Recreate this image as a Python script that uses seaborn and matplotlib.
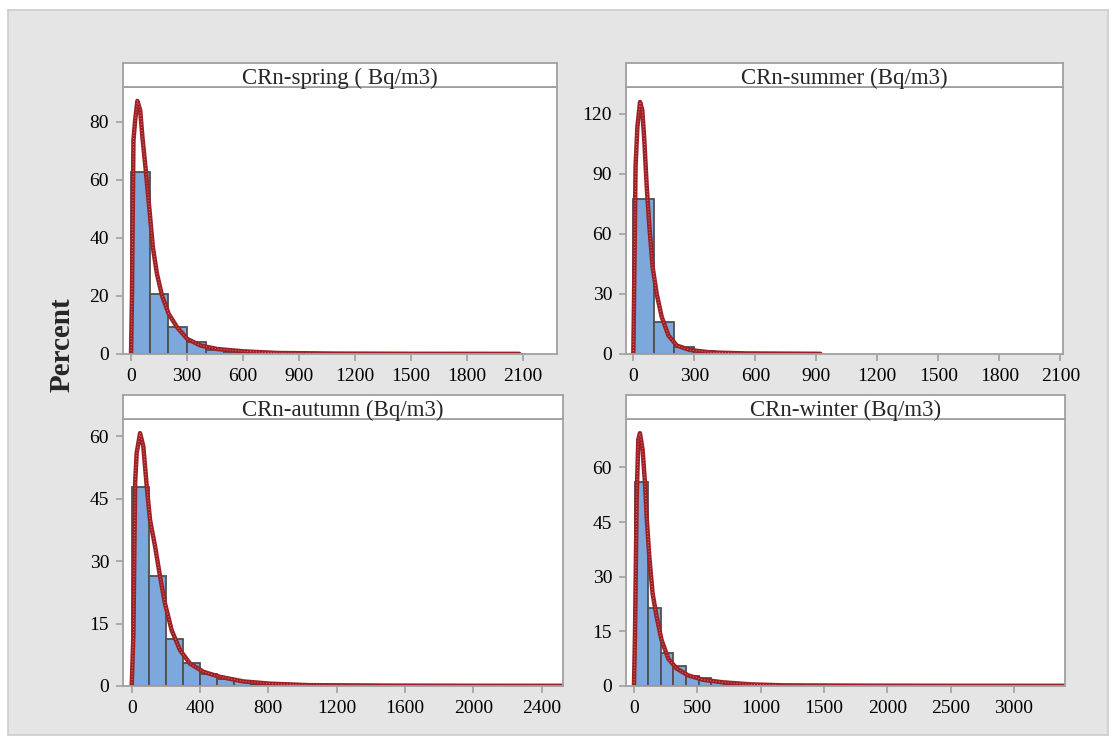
import numpy as np
import pandas as pd
import seaborn as sns
import matplotlib.pyplot as plt

#--------------------------------------------------------------------------------------------------------------------------
# Data (percent per 100 Bq/m3 bin, and the fitted curve)
titles = ['CRn-spring ( Bq/m3)', 'CRn-summer (Bq/m3)', 'CRn-autumn (Bq/m3)', 'CRn-winter (Bq/m3)']

spring_edges = [0, 100, 200, 300, 400, 500, 600, 700, 800, 900, 1000, 1100, 1200, 1300, 1400, 1500, 1600, 1700, 1800, 1900, 2000, 2100]
spring_pct = [62.6, 20.7, 9.2, 4.0, 1.3, 0.7, 0.4, 0.3, 0.2, 0.15, 0.1, 0.1, 0.05, 0.05, 0.05, 0.03, 0.03, 0.03, 0.02, 0.02, 0.02]
spring_curve_x = [0, 5, 13, 22, 34, 49, 61, 79, 99, 117, 139, 166, 202, 247, 301, 373, 463, 607, 787, 1100, 1500, 2080]
spring_curve_y = [0, 20, 73.6, 80.5, 87.2, 84.0, 74.8, 63.3, 49.5, 36.8, 27.6, 20.1, 13.8, 9.2, 5.2, 2.9, 1.7, 0.9, 0.35, 0.15, 0.08, 0.05]

summer_edges = [0, 100, 200, 300, 400, 500, 600, 700, 800, 900]
summer_pct = [77.4, 16.2, 3.7, 1.7, 0.5, 0.3, 0.1, 0.05, 0.05]
summer_curve_x = [0, 5, 11, 20, 33, 44, 54, 66, 79, 95, 115, 140, 173, 214, 279, 378, 550, 920]
summer_curve_y = [0, 40, 93.6, 113.6, 126.0, 122.0, 107.0, 83.6, 63.5, 43.5, 30.0, 18.4, 9.2, 4.2, 2.0, 0.8, 0.3, 0.1]

autumn_edges = [0, 100, 200, 300, 400, 500, 600, 700, 800, 900, 1000, 1100, 1200, 1300, 1400, 1500]
autumn_pct = [47.8, 26.5, 11.2, 5.6, 3.0, 1.8, 1.2, 0.6, 0.4, 0.3, 0.2, 0.15, 0.1, 0.1, 0.05]
autumn_curve_x = [0, 10, 20, 29, 49, 68, 88, 107, 137, 166, 195, 234, 283, 341, 420, 517, 654, 810, 1044, 1500, 2000, 2530]
autumn_curve_y = [0, 12.6, 48.8, 56.0, 60.8, 57.6, 48.0, 40.0, 33.5, 26.3, 19.8, 13.4, 8.6, 5.4, 3.4, 2.2, 1.1, 0.56, 0.2, 0.1, 0.06, 0.05]

winter_edges = [10, 110, 210, 310, 410, 510, 610, 710, 810, 910, 1010, 1110, 1210]
winter_pct = [55.9, 21.3, 9.1, 5.4, 2.7, 2.3, 1.0, 0.6, 0.4, 0.3, 0.2, 0.1]
winter_curve_x = [0, 8, 21, 34, 47, 68, 87, 100, 121, 147, 179, 218, 271, 337, 429, 547, 705, 916, 1179, 1800, 2600, 3410]
winter_curve_y = [0, 14.4, 51.0, 67.6, 69.4, 64.9, 55.7, 46.5, 35.5, 25.4, 19.0, 12.6, 7.5, 4.8, 2.9, 1.7, 1.0, 0.46, 0.18, 0.1, 0.06, 0.05]

panels = [
    (spring_edges, spring_pct, spring_curve_x, spring_curve_y, (-43, 2282), (0, 92), range(0, 2101, 300), [0, 20, 40, 60, 80]),
    (summer_edges, summer_pct, summer_curve_x, summer_curve_y, (-36, 2113), (0, 133.5), range(0, 2101, 300), [0, 30, 60, 90, 120]),
    (autumn_edges, autumn_pct, autumn_curve_x, autumn_curve_y, (-51, 2525), (0, 64.2), range(0, 2401, 400), [0, 15, 30, 45, 60]),
    (winter_edges, winter_pct, winter_curve_x, winter_curve_y, (-63, 3404), (0, 73.3), range(0, 3001, 500), [0, 15, 30, 45, 60]),
]

# pixel boxes (left, top, right, bottom) of each plot area
boxes = [(123, 87, 557, 354), (626, 87, 1063, 354), (123, 419, 563, 686), (626, 419, 1065, 686)]
strip_h = 24

#--------------------------------------------------------------------------------------------------------------------------
sns.set_style('white')
plt.rcParams['font.family'] = ['Liberation Serif', 'DejaVu Serif']

W, H = 1115, 745
fig = plt.figure(figsize=(W / 100, H / 100), dpi=100)
fig.patch.set_facecolor('white')

# grey frame behind the panels
bg = fig.add_axes([8 / W, 1 - 735 / H, 1100 / W, 725 / H], zorder=-5)
bg.set_facecolor('#e5e5e5')
bg.set_xticks([])
bg.set_yticks([])
for s in bg.spines.values():
    s.set_color('#cccccc')
    s.set_linewidth(1.2)

for i, (edges, pct, cx, cy, xlim, ylim, xticks, yticks) in enumerate(panels):
    l, t, r, b = boxes[i]
    ax = fig.add_axes([l / W, 1 - b / H, (r - l) / W, (b - t) / H])
    ax.set_facecolor('white')

    df_bins = pd.DataFrame({'x': edges[:-1], 'pct': pct})
    sns.histplot(data=df_bins, x='x', weights='pct', bins=edges, stat='count', ax=ax,
                 color='#7ca8db', edgecolor='#505050', linewidth=1.3, alpha=1)

    df_curve = pd.DataFrame({'x': cx, 'y': cy})
    sns.lineplot(data=df_curve, x='x', y='y', sort=False, ax=ax, color='#9e1f24', linewidth=3.2)
    sns.lineplot(data=df_curve, x='x', y='y', sort=False, ax=ax, color='#c87070', linewidth=0.8, linestyle=':')

    ax.set_xlim(*xlim)
    ax.set_ylim(*ylim)
    ax.set_xticks(list(xticks))
    ax.set_yticks(yticks)
    ax.set_xlabel('')
    ax.set_ylabel('')
    for s in ax.spines.values():
        s.set_color('#a0a0a0')
        s.set_linewidth(1.3)
    ax.tick_params(axis='both', direction='out', length=5, width=1.2, color='#a0a0a0',
                   labelsize=14, labelcolor='black', pad=5, bottom=True, left=True)

    # title strip
    sax = fig.add_axes([l / W, 1 - t / H, (r - l) / W, strip_h / H])
    sax.set_facecolor('white')
    sax.set_xticks([])
    sax.set_yticks([])
    for s in sax.spines.values():
        s.set_color('#a0a0a0')
        s.set_linewidth(1.3)
    sax.text(0.5, 0.36, titles[i], ha='center', va='center', fontsize=16.5, transform=sax.transAxes)

fig.text(62 / W, 1 - 345 / H, 'Percent', rotation=90, ha='center', va='center', fontsize=21, fontweight='bold')

fig.savefig('out.png', dpi=100)
